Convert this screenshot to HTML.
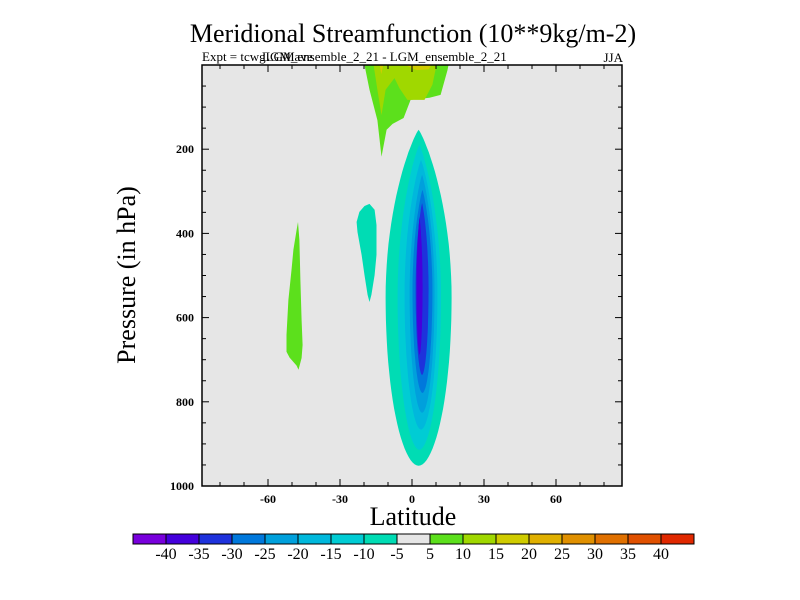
<!DOCTYPE html>
<html><head><meta charset="utf-8">
<style>
body{margin:0;background:#fff;}
svg{display:block;font-family:"Liberation Serif",serif;}
</style></head>
<body>
<svg id="chart" width="800" height="600" viewBox="0 0 800 600">
<rect x="0" y="0" width="800" height="600" fill="#fff"/>
<text x="413" y="42" font-size="26" text-anchor="middle">Meridional Streamfunction (10**9kg/m-2)</text>
<text x="202" y="61" font-size="13">Expt = tcwgLGMave</text>
<text x="262" y="61" font-size="13">LGM_ensemble_2_21 - LGM_ensemble_2_21</text>
<text x="623" y="62" font-size="13" text-anchor="end">JJA</text>
<text transform="translate(135,275) rotate(-90)" font-size="26" text-anchor="middle">Pressure (in hPa)</text>
<text x="413" y="525" font-size="26" text-anchor="middle">Latitude</text>
<g id="plot"></g>
<g id="cbar"></g>
</svg>
<script>
const latMin=-87.5, latMax=87.5, pMin=0, pMax=1000;
const xTicks=[-60,-30,0,30,60];
const yTicks=[200,400,600,800,1000];
const levels=[-40,-35,-30,-25,-20,-15,-10,-5,5,10,15,20,25,30,35,40];
const levelColors=["#7800dc","#4400dc","#1e32dc","#0078dc","#00a0dc","#00b8dc","#00ccd4","#00dcb4","#e6e6e6","#5ce01c","#a0d800","#d0cc00","#e0b000","#e09000","#e07000","#e05000","#e02800"];
// main cell rings: level, left lat, right lat, top p, bottom p
const ringLevels=[-5,-10,-15,-20,-25,-30,-35];
const ringLatL=[-11.0,-6.0,-3.1,-1.0,0.2,1.5,1.9];
const ringLatR=[16.5,12.1,10.6,9.4,8.5,6.9,4.4];
const ringPTop=[154,190,226,261,297,328,361];
const ringPBot=[952,914,866,826,779,736,688];
// polygon contours [lat,p]
const greenTop=[[-19.8,0],[-17.7,59],[-14.4,131],[-12.7,218],[-10.6,154],[-8.1,140],[-3.5,126],[-0.6,83],[7.3,78],[11.9,71],[14.8,12],[15.2,0]];
const yellowGreenTop=[[-16,0],[-14.4,59],[-12.7,119],[-11,59],[-7.3,31],[-5.2,55],[-1.9,83],[5.2,83],[8.5,47],[10.2,0]];
const yellowTopA=[[-13.5,0],[-12.8,22],[-12.0,0]];
const yellowTopB=[[-3,0],[2,12],[7,10],[8,0]];
const greenLeft=[[-47.5,373],[-46.9,416],[-46.5,511],[-46.0,606],[-45.6,665],[-46.0,696],[-47.3,724],[-48.1,714],[-51.0,695],[-52.3,681],[-52.3,641],[-51.5,558],[-50.2,487],[-49.4,439],[-48.1,392]];
const tealLeft=[[-17.7,330],[-15.6,344],[-14.8,380],[-14.8,451],[-15.6,499],[-16.9,546],[-17.7,563],[-18.5,546],[-19.8,499],[-21.0,451],[-22.7,397],[-23.1,373],[-21.9,349],[-19.8,335]];

const X0=202,X1=622,Y0=65,Y1=486;
function xs(lat){return X0+(lat-latMin)/(latMax-latMin)*(X1-X0);}
function ys(p){return Y0+(p-pMin)/(pMax-pMin)*(Y1-Y0);}
function colorFor(lv){let i=levels.indexOf(lv);return lv<0?levelColors[i]:levelColors[i+1];}
const NS="http://www.w3.org/2000/svg";
const plot=document.getElementById('plot');
function mk(tag,attrs,parent){const e=document.createElementNS(NS,tag);for(const k in attrs)e.setAttribute(k,attrs[k]);(parent||plot).appendChild(e);return e;}
const bg=mk('rect',{x:X0,y:Y0,width:X1-X0,height:Y1-Y0,fill:'#e6e6e6'});


function poly(pts,fill,name){const e=mk('polygon',{points:pts.map(q=>xs(q[0]).toFixed(1)+','+ys(q[1]).toFixed(1)).join(' '),fill:fill});

}
poly(greenTop,colorFor(5),'contour-upper-5');
poly(yellowGreenTop,colorFor(10),'contour-upper-10');
poly(yellowTopA,colorFor(15),'contour-upper-15-a');
poly(yellowTopB,colorFor(15),'contour-upper-15-b');
poly(greenLeft,colorFor(5),'contour-south-5');
poly(tealLeft,colorFor(-5),'contour-tropic-minus5');
for(let i=0;i<ringLevels.length;i++){
  const cx=(ringLatL[i]+ringLatR[i])/2,a=(ringLatR[i]-ringLatL[i])/2;
  const cy=(ringPTop[i]+ringPBot[i])/2,b=(ringPBot[i]-ringPTop[i])/2;
  const pts=[];
  for(let k=0;k<96;k++){const t=k/96*2*Math.PI;const c=Math.cos(t),s=Math.sin(t);
    const e=s<0?1.7:1.05;
    pts.push([cx+a*Math.sign(c)*Math.pow(Math.abs(c),e),cy+b*s]);}
  poly(pts,colorFor(ringLevels[i]),'contour-main-'+ringLevels[i]);
}
const frame=mk('rect',{x:X0,y:Y0,width:X1-X0,height:Y1-Y0,fill:'none',stroke:'#000','stroke-width':1.5});


for(let lat=-80;lat<=80;lat+=10){const x=xs(lat),L=(lat%30===0)?7:4;
  mk('line',{x1:x,x2:x,y1:Y1,y2:Y1-L,stroke:'#000'});mk('line',{x1:x,x2:x,y1:Y0,y2:Y0+L,stroke:'#000'});}
for(let p=50;p<1000;p+=50){const y=ys(p),L=(p%200===0)?7:4;
  mk('line',{x1:X0,x2:X0+L,y1:y,y2:y,stroke:'#000'});mk('line',{x1:X1,x2:X1-L,y1:y,y2:y,stroke:'#000'});}
xTicks.forEach(v=>{const t=mk('text',{x:xs(v),y:Y1+17,'font-size':12,'font-weight':'bold','text-anchor':'middle'});t.textContent=v;

});
yTicks.forEach(v=>{const t=mk('text',{x:X0-8,y:ys(v)+4,'font-size':12,'font-weight':'bold','text-anchor':'end'});t.textContent=v;

});
// colorbar
const cb=document.getElementById('cbar');
const CB0=133,CBW=33,CBY=534,CBH=10;
levelColors.forEach((c,i)=>{const r=mk('rect',{x:CB0+i*CBW,y:CBY,width:CBW,height:CBH,fill:c,stroke:'#000','stroke-width':1},cb);

});
levels.forEach((v,i)=>{const t=mk('text',{x:CB0+(i+1)*CBW,y:CBY+25,'font-size':16,'text-anchor':'middle'},cb);t.textContent=v;

});
</script>
</body></html>
